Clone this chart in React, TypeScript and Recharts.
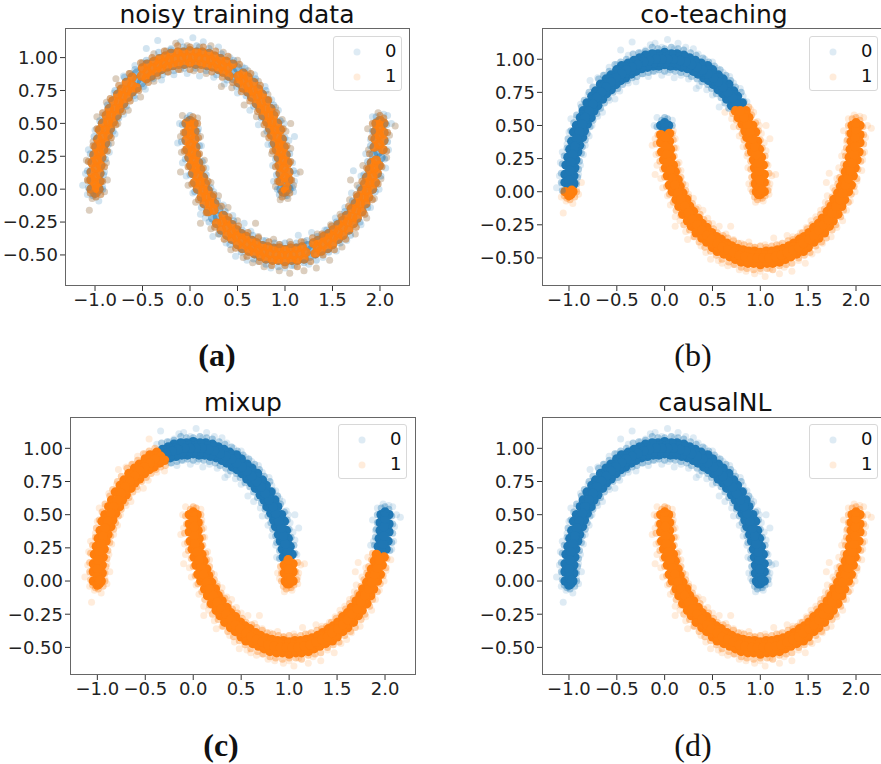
import React from "react";
import { ScatterChart, Scatter, XAxis, YAxis, Legend } from "recharts";

// values, [x, y]
const upperCore = [
  [1.04, 0], [1.04, 0.07], [1.04, 0.13], [1.03, 0.2], [1.01, 0.26], [0.99, 0.32], [0.97, 0.38], [0.95, 0.45], [0.92, 0.5], [0.88, 0.56], [0.85, 0.61], [0.81, 0.67], [0.76, 0.72], [0.72, 0.76], [0.67, 0.81], [0.61, 0.85], [0.56, 0.88], [0.5, 0.92], [0.45, 0.95], [0.38, 0.97], [0.32, 0.99], [0.26, 1.01], [0.2, 1.03], [0.13, 1.04], [0.07, 1.04], [0, 1.05],
  [-0.07, 1.04], [-0.13, 1.04], [-0.2, 1.03], [-0.26, 1.01], [-0.32, 0.99], [-0.38, 0.97], [-0.45, 0.95], [-0.5, 0.92], [-0.56, 0.88], [-0.61, 0.85], [-0.67, 0.81], [-0.72, 0.76], [-0.76, 0.72], [-0.81, 0.67], [-0.85, 0.61], [-0.88, 0.56], [-0.92, 0.5], [-0.95, 0.45], [-0.97, 0.38], [-0.99, 0.32], [-1.01, 0.26], [-1.03, 0.2], [-1.04, 0.13], [-1.04, 0.07], [-1.04, 0],
  [0.96, 0], [0.95, 0.06], [0.95, 0.12], [0.94, 0.18], [0.93, 0.24], [0.91, 0.3], [0.89, 0.35], [0.86, 0.41], [0.84, 0.46], [0.81, 0.51], [0.77, 0.56], [0.74, 0.61], [0.7, 0.65], [0.65, 0.7], [0.61, 0.74], [0.56, 0.77], [0.51, 0.81], [0.46, 0.84], [0.41, 0.86], [0.35, 0.89], [0.3, 0.91], [0.24, 0.93], [0.18, 0.94], [0.12, 0.95], [0.06, 0.95], [0, 0.96],
  [-0.06, 0.95], [-0.12, 0.95], [-0.18, 0.94], [-0.24, 0.93], [-0.3, 0.91], [-0.35, 0.89], [-0.41, 0.86], [-0.46, 0.84], [-0.51, 0.81], [-0.56, 0.77], [-0.61, 0.74], [-0.65, 0.7], [-0.7, 0.65], [-0.74, 0.61], [-0.77, 0.56], [-0.81, 0.51], [-0.84, 0.46], [-0.86, 0.41], [-0.89, 0.35], [-0.91, 0.3], [-0.93, 0.24], [-0.94, 0.18], [-0.95, 0.12], [-0.95, 0.06], [-0.96, 0],
  [1, 0.03], [1, 0.09], [0.99, 0.16], [0.98, 0.22], [0.96, 0.28], [0.94, 0.34], [0.92, 0.4], [0.89, 0.45], [0.86, 0.51], [0.83, 0.56], [0.79, 0.61], [0.75, 0.66], [0.71, 0.71], [0.66, 0.75], [0.61, 0.79], [0.56, 0.83], [0.51, 0.86], [0.45, 0.89], [0.4, 0.92], [0.34, 0.94], [0.28, 0.96], [0.22, 0.98], [0.16, 0.99], [0.09, 1], [0.03, 1],
  [-0.03, 1], [-0.09, 1], [-0.16, 0.99], [-0.22, 0.98], [-0.28, 0.96], [-0.34, 0.94], [-0.4, 0.92], [-0.45, 0.89], [-0.51, 0.86], [-0.56, 0.83], [-0.61, 0.79], [-0.66, 0.75], [-0.71, 0.71], [-0.75, 0.66], [-0.79, 0.61], [-0.83, 0.56], [-0.86, 0.51], [-0.89, 0.45], [-0.92, 0.4], [-0.94, 0.34], [-0.96, 0.28], [-0.98, 0.22], [-0.99, 0.16], [-1, 0.09], [-1, 0.03],
  [-1, -0.03], [-0.98, -0.02], [-0.97, 0.01], [1, -0.02], [0.98, -0.02], [1.02, 0.01],
];

const upperHalo = [
  [1.08, 0.01], [1.07, 0.07], [1.09, 0.14], [1.06, 0.21], [1.05, 0.27], [1.02, 0.33], [1, 0.39], [0.98, 0.46], [0.95, 0.52], [0.91, 0.58], [0.88, 0.64], [0.83, 0.68], [0.8, 0.75], [0.74, 0.79], [0.69, 0.84], [0.64, 0.88], [0.58, 0.92], [0.52, 0.95], [0.46, 0.98], [0.4, 1.01], [0.33, 1.03], [0.27, 1.05], [0.2, 1.07], [0.14, 1.08], [0.07, 1.09], [0, 1.08],
  [-0.07, 1.08], [-0.13, 1.09], [-0.2, 1.06], [-0.27, 1.05], [-0.33, 1.04], [-0.4, 1], [-0.46, 0.98], [-0.52, 0.96], [-0.58, 0.91], [-0.64, 0.88], [-0.69, 0.85], [-0.75, 0.79], [-0.79, 0.75], [-0.84, 0.69], [-0.87, 0.64], [-0.92, 0.58], [-0.95, 0.52], [-0.98, 0.46], [-1.01, 0.4], [-1.02, 0.33], [-1.05, 0.27], [-1.07, 0.21], [-1.08, 0.14], [-1.08, 0.07], [-1.07, 0.01], [-1.05, -0.03], [-1.02, -0.05], [-0.99, -0.06],
  [0.92, 0], [0.92, 0.06], [0.91, 0.11], [0.9, 0.17], [0.9, 0.23], [0.87, 0.29], [0.86, 0.34], [0.83, 0.39], [0.81, 0.44], [0.78, 0.49], [0.75, 0.54], [0.71, 0.59], [0.67, 0.63], [0.63, 0.67], [0.59, 0.71], [0.54, 0.74], [0.49, 0.78], [0.45, 0.81], [0.39, 0.83], [0.34, 0.85], [0.28, 0.87], [0.23, 0.89], [0.17, 0.9], [0.11, 0.91], [0.06, 0.92], [0, 0.91],
  [-0.06, 0.92], [-0.12, 0.91], [-0.17, 0.9], [-0.23, 0.89], [-0.29, 0.87], [-0.34, 0.86], [-0.39, 0.84], [-0.44, 0.81], [-0.49, 0.78], [-0.54, 0.75], [-0.59, 0.71], [-0.63, 0.67], [-0.67, 0.63], [-0.71, 0.59], [-0.75, 0.54], [-0.78, 0.49], [-0.81, 0.44], [-0.83, 0.39], [-0.86, 0.34], [-0.87, 0.29], [-0.89, 0.23], [-0.9, 0.17], [-0.91, 0.11], [-0.92, 0.06], [-0.92, 0], [-0.94, -0.04], [0.94, -0.04], [0.97, -0.06], [1.02, -0.05], [1.05, -0.03],
];

const upperFringe = [
  [1.12, 0.12], [1.09, 0.03], [1.08, 0.2], [1.06, 0.31], [1.04, 0.37], [1.01, 0.44], [0.99, 0.5], [0.97, 0.53], [0.93, 0.6], [0.9, 0.62], [0.86, 0.68], [0.82, 0.72], [0.79, 0.78], [0.72, 0.82], [0.68, 0.87], [0.61, 0.9], [0.55, 0.93], [0.5, 0.98], [0.42, 1], [0.35, 1.04], [0.3, 1.08], [0.22, 1.09], [0.14, 1.12], [0.1, 1.08], [0.03, 1.15], [-0.03, 1.09], [-0.1, 1.12], [-0.15, 1.11], [-0.2, 1.07], [-0.25, 1.05], [-0.34, 1.13], [-0.38, 1.03], [-0.46, 1.07], [-0.5, 0.96], [-0.58, 0.94], [-0.63, 0.88], [-0.7, 0.86], [-0.78, 0.84], [-0.8, 0.73], [-0.88, 0.66], [-0.92, 0.56], [-0.98, 0.55], [-1, 0.45], [-1.02, 0.36], [-1.07, 0.3], [-1.09, 0.22], [-1.1, 0.12], [-1.07, 0.06], [-1.13, 0.03], [-1.06, -0.16], [-1.08, -0.04], [-1.03, -0.07],
  [0.88, 0.06], [0.9, 0.02], [0.87, 0.18], [0.86, 0.27], [0.82, 0.34], [0.78, 0.42], [0.72, 0.49], [0.7, 0.55], [0.63, 0.6], [0.57, 0.64], [0.5, 0.73], [0.44, 0.77], [0.36, 0.8], [0.33, 0.78], [0.25, 0.85], [0.17, 0.88], [0.1, 0.86], [0.04, 0.9], [-0.03, 0.88], [-0.1, 0.91], [-0.17, 0.87], [-0.24, 0.89], [-0.3, 0.83], [-0.38, 0.82], [-0.47, 0.76], [-0.52, 0.7], [-0.58, 0.69], [-0.65, 0.6], [-0.7, 0.57], [-0.76, 0.5], [-0.79, 0.42], [-0.83, 0.35], [-0.85, 0.28], [-0.88, 0.2], [-0.9, 0.13], [-0.87, 0.07], [-0.92, 0.02], [-0.9, -0.02], [-0.96, -0.09],
  [0.95, -0.08], [1, -0.05], [1.03, -0.07], [1.09, -0.02], [0.98, -0.03], [1.05, 0.02], [1.16, 0.13], [1.1, 0.06], [1.06, 0.5], [1.1, 0.4],
];

const lowerCore = [
  [-0.04, 0.5], [-0.04, 0.43], [-0.04, 0.37], [-0.03, 0.3], [-0.01, 0.24], [0.01, 0.18], [0.03, 0.12], [0.05, 0.05], [0.08, 0], [0.12, -0.06], [0.15, -0.11], [0.19, -0.17], [0.24, -0.22], [0.28, -0.26], [0.33, -0.31], [0.39, -0.35], [0.44, -0.38], [0.5, -0.42], [0.55, -0.45], [0.62, -0.47], [0.68, -0.49], [0.74, -0.51], [0.8, -0.53], [0.87, -0.54], [0.93, -0.54], [1, -0.55],
  [1.07, -0.54], [1.13, -0.54], [1.2, -0.53], [1.26, -0.51], [1.32, -0.49], [1.38, -0.47], [1.45, -0.45], [1.5, -0.42], [1.56, -0.38], [1.61, -0.35], [1.67, -0.31], [1.72, -0.26], [1.76, -0.22], [1.81, -0.17], [1.85, -0.11], [1.88, -0.06], [1.92, 0], [1.95, 0.05], [1.97, 0.12], [1.99, 0.18], [2.01, 0.24], [2.03, 0.3], [2.04, 0.37], [2.04, 0.43], [2.04, 0.5],
  [0.04, 0.5], [0.05, 0.44], [0.05, 0.38], [0.06, 0.32], [0.07, 0.26], [0.09, 0.2], [0.11, 0.15], [0.14, 0.09], [0.16, 0.04], [0.19, -0.01], [0.23, -0.06], [0.26, -0.11], [0.3, -0.15], [0.35, -0.2], [0.39, -0.24], [0.44, -0.27], [0.49, -0.31], [0.54, -0.34], [0.59, -0.36], [0.65, -0.39], [0.7, -0.41], [0.76, -0.43], [0.82, -0.44], [0.88, -0.45], [0.94, -0.45], [1, -0.46],
  [1.06, -0.45], [1.12, -0.45], [1.18, -0.44], [1.24, -0.43], [1.3, -0.41], [1.35, -0.39], [1.41, -0.36], [1.46, -0.34], [1.51, -0.31], [1.56, -0.27], [1.61, -0.24], [1.65, -0.2], [1.7, -0.15], [1.74, -0.11], [1.77, -0.06], [1.81, -0.01], [1.84, 0.04], [1.86, 0.09], [1.89, 0.15], [1.91, 0.2], [1.93, 0.26], [1.94, 0.32], [1.95, 0.38], [1.95, 0.44], [1.96, 0.5],
  [0, 0.47], [0.01, 0.41], [0.01, 0.34], [0.02, 0.28], [0.04, 0.22], [0.06, 0.16], [0.08, 0.1], [0.11, 0.05], [0.14, -0.01], [0.17, -0.06], [0.21, -0.11], [0.25, -0.16], [0.29, -0.21], [0.34, -0.25], [0.39, -0.29], [0.44, -0.33], [0.49, -0.36], [0.55, -0.39], [0.6, -0.42], [0.66, -0.44], [0.72, -0.46], [0.78, -0.48], [0.84, -0.49], [0.91, -0.5], [0.97, -0.5],
  [1.03, -0.5], [1.09, -0.5], [1.16, -0.49], [1.22, -0.48], [1.28, -0.46], [1.34, -0.44], [1.4, -0.42], [1.45, -0.39], [1.51, -0.36], [1.56, -0.33], [1.61, -0.29], [1.66, -0.25], [1.71, -0.21], [1.75, -0.16], [1.79, -0.11], [1.83, -0.06], [1.86, -0.01], [1.89, 0.05], [1.92, 0.1], [1.94, 0.16], [1.96, 0.22], [1.98, 0.28], [1.99, 0.34], [1.99, 0.41], [2, 0.47],
  [0, 0.52], [2, 0.52],
];

const lowerHalo = [
  [-0.08, 0.49], [-0.07, 0.43], [-0.09, 0.36], [-0.06, 0.29], [-0.05, 0.23], [-0.02, 0.17], [0, 0.11], [0.02, 0.04], [0.05, -0.02], [0.09, -0.08], [0.12, -0.14], [0.17, -0.18], [0.2, -0.25], [0.26, -0.29], [0.31, -0.34], [0.36, -0.38], [0.42, -0.42], [0.48, -0.45], [0.54, -0.48], [0.6, -0.51], [0.67, -0.53], [0.73, -0.55], [0.8, -0.57], [0.86, -0.58], [0.93, -0.59], [1, -0.58],
  [1.07, -0.58], [1.13, -0.59], [1.2, -0.56], [1.27, -0.55], [1.33, -0.54], [1.4, -0.5], [1.46, -0.48], [1.52, -0.46], [1.58, -0.41], [1.64, -0.38], [1.69, -0.35], [1.75, -0.29], [1.79, -0.25], [1.84, -0.19], [1.87, -0.14], [1.92, -0.08], [1.95, -0.02], [1.98, 0.04], [2.01, 0.1], [2.02, 0.17], [2.05, 0.23], [2.07, 0.29], [2.08, 0.36], [2.08, 0.43], [2.07, 0.49],
  [0.08, 0.5], [0.08, 0.44], [0.09, 0.39], [0.1, 0.33], [0.1, 0.27], [0.13, 0.21], [0.14, 0.16], [0.17, 0.11], [0.19, 0.06], [0.22, 0.01], [0.25, -0.04], [0.29, -0.09], [0.33, -0.13], [0.37, -0.17], [0.41, -0.21], [0.46, -0.24], [0.51, -0.28], [0.55, -0.31], [0.61, -0.33], [0.66, -0.35], [0.72, -0.37], [0.77, -0.39], [0.83, -0.4], [0.89, -0.41], [0.94, -0.42], [1, -0.41],
  [1.06, -0.42], [1.12, -0.41], [1.17, -0.4], [1.23, -0.39], [1.29, -0.37], [1.34, -0.36], [1.39, -0.34], [1.44, -0.31], [1.49, -0.28], [1.54, -0.25], [1.59, -0.21], [1.63, -0.17], [1.67, -0.13], [1.71, -0.09], [1.75, -0.04], [1.78, 0.01], [1.81, 0.06], [1.83, 0.11], [1.86, 0.16], [1.87, 0.21], [1.89, 0.27], [1.9, 0.33], [1.91, 0.39], [1.92, 0.44], [1.92, 0.5],
  [0, 0.56], [0.03, 0.55], [-0.03, 0.54], [2, 0.56], [1.96, 0.55], [2.04, 0.54],
];

const lowerFringe = [
  [-0.1, 0.4], [-0.11, 0.5], [-0.08, 0.56], [-0.13, 0.35], [-0.09, 0.28], [-0.08, 0.2], [-0.1, 0.13], [-0.04, 0.1], [-0.02, 0.03], [0.03, -0.03], [0.06, -0.1], [0.11, -0.19], [0.11, -0.26], [0.16, -0.22], [0.22, -0.3], [0.24, -0.36], [0.3, -0.34], [0.38, -0.41], [0.43, -0.46], [0.48, -0.51], [0.56, -0.52], [0.6, -0.54], [0.66, -0.56], [0.72, -0.55], [0.78, -0.59], [0.85, -0.6], [0.94, -0.62], [1, -0.6], [1.05, -0.64], [1.1, -0.58], [1.2, -0.62], [1.25, -0.57], [1.33, -0.6], [1.4, -0.52], [1.47, -0.54], [1.54, -0.47], [1.6, -0.44], [1.65, -0.39], [1.74, -0.34], [1.8, -0.27], [1.86, -0.22], [1.9, -0.14], [1.94, -0.07], [1.99, 0], [2.01, 0.08], [2.06, 0.16], [2.07, 0.24], [2.09, 0.3], [2.1, 0.41], [2.12, 0.5], [2.16, 0.48], [2.04, 0.57], [1.98, 0.58], [2.08, 0.56],
  [0.08, 0.54], [0.09, 0.46], [0.11, 0.4], [0.12, 0.33], [0.15, 0.22], [0.17, 0.16], [0.22, 0.05], [0.25, -0.02], [0.3, -0.05], [0.35, -0.12], [0.4, -0.14], [0.45, -0.2], [0.5, -0.24], [0.57, -0.26], [0.69, -0.26], [0.64, -0.32], [0.72, -0.36], [0.8, -0.39], [0.88, -0.38], [0.95, -0.42], [1.05, -0.4], [1.14, -0.35], [1.2, -0.4], [1.28, -0.33], [1.34, -0.34], [1.42, -0.31], [1.48, -0.27], [1.53, -0.22], [1.58, -0.19], [1.63, -0.14], [1.68, -0.08], [1.7, -0.03], [1.76, 0.03], [1.72, 0.14], [1.69, 0.07], [1.8, 0.1], [1.82, 0.18], [1.85, 0.27], [1.88, 0.3], [1.9, 0.38], [1.87, 0.46], [1.92, 0.55],
];

const xTicks = [-1, -0.5, 0, 0.5, 1, 1.5, 2];
const yTicks = [-0.5, -0.25, 0, 0.25, 0.5, 0.75, 1];
const classLabels = ["0", "1"];

const BLUE = "#1f77b4";
const ORANGE = "#ff7f0e";
const FONT = "'DejaVu Sans', sans-serif";
const AXIS_W = 64;
const AXIS_H = 34;

const minus = (s: string) => s.replace("-", "\u2212");

// which moon pieces each method called class 0
const coTeaching = (x: number, y: number, upper: boolean) =>
  upper
    ? !(x > 0.5 && y < 0.63 + 0.26 * (x - 0.7)) && !(x < -0.5 && y < 0.38 * (x + 1.06))
    : x < 0.5 && y > 0.428 + 0.17 * (x + 0.118);
const mixup = (x: number, y: number, upper: boolean) =>
  upper ? x + y >= 0.627 && !(x > 0.5 && y < 0.17) : x > 1.5 && y > 0.21;
const causal = (_x: number, _y: number, upper: boolean) => upper;

const panels = [
  { title: "noisy training data", caption: "(a)", bold: true, box: [65, 28, 345, 258], xd: [-1.316, 2.316], yd: [-0.736, 1.225], titleX: 237, titleY: 15, capX: 217, capY: 355, legend: [333, 36], split: null },
  { title: "co-teaching", caption: "(b)", bold: false, box: [542, 28, 345, 258], xd: [-1.282, 2.324], yd: [-0.712, 1.236], titleX: 714, titleY: 15, capX: 693, capY: 355, legend: [809, 36], split: coTeaching },
  { title: "mixup", caption: "(c)", bold: true, box: [70, 417, 346, 258], xd: [-1.285, 2.323], yd: [-0.708, 1.236], titleX: 243, titleY: 403, capX: 221, capY: 745, legend: [338, 424], split: mixup },
  { title: "causalNL", caption: "(d)", bold: false, box: [542, 417, 345, 258], xd: [-1.282, 2.324], yd: [-0.708, 1.236], titleX: 715, titleY: 403, capX: 693, capY: 745, legend: [809, 424], split: causal },
];

const toRows = (pairs: number[][], upper: boolean) => pairs.map(([x, y]) => ({ x, y, upper }));
const coreRows = [...toRows(upperCore, true), ...toRows(lowerCore, false)];
const haloRows = [...toRows(upperHalo, true), ...toRows(lowerHalo, false)];
const fringeRows = [...toRows(upperFringe, true), ...toRows(lowerFringe, false)];

const dot = (color: string, opacity: number, r = 3.5) => (p: any) => (
  <circle cx={p.cx} cy={p.cy} r={r} fill={color} fillOpacity={opacity} />
);

function LegendBox() {
  return (
    <div style={{ width: 69, height: 55, boxSizing: "border-box", border: "1px solid #d8d8d8", borderRadius: 3, background: "rgba(255,255,255,0.8)", position: "relative", fontFamily: FONT, fontSize: 18, color: "#111" }}>
      {classLabels.map((label, i) => (
        <React.Fragment key={label}>
          <svg width={10} height={10} style={{ position: "absolute", left: 18, top: 9.5 + i * 25 }}>
            <circle cx={5} cy={5} r={3.5} fill={i === 0 ? BLUE : ORANGE} fillOpacity={0.15} />
          </svg>
          <span style={{ position: "absolute", left: 51, top: 3 + i * 25 }}>{label}</span>
        </React.Fragment>
      ))}
    </div>
  );
}

function Panel({ cfg }: { cfg: (typeof panels)[number] }) {
  const [left, top, w, h] = cfg.box;
  const split = cfg.split;
  const noisy = split === null;
  // in the noisy panel both classes sit on both moons
  const pick = (rows: typeof coreRows, cls: number) =>
    noisy
      ? rows.filter((_, i) => cls === 0 || i % 2 === 1)
      : rows.filter((r) => (split(r.x, r.y, r.upper) ? 0 : 1) === cls);
  const coreFor = (cls: number) =>
    noisy ? coreRows.filter((_, i) => cls === 0 || i % 17 !== 0) : pick(coreRows, cls);

  return (
    <>
      <div style={{ position: "absolute", left: cfg.titleX - 150, top: cfg.titleY - 15, width: 300, textAlign: "center", fontFamily: FONT, fontSize: 25, lineHeight: "30px", color: "#111", whiteSpace: "nowrap" }}>{cfg.title}</div>
      <div style={{ position: "absolute", left: cfg.capX - 50, top: cfg.capY - 20, width: 100, textAlign: "center", fontFamily: "'Liberation Serif', serif", fontSize: 32, lineHeight: "40px", fontWeight: cfg.bold ? 700 : 400, color: "#111" }}>{cfg.caption}</div>
      <div style={{ position: "absolute", left, top, width: w, height: h, boxSizing: "border-box", border: "1px solid #666" }} />
      <div style={{ position: "absolute", left: left - AXIS_W, top }}>
        <ScatterChart width={w + AXIS_W} height={h + AXIS_H} margin={{ top: 0, right: 0, bottom: 0, left: 0 }}>
          <XAxis
            type="number"
            dataKey="x"
            domain={cfg.xd}
            ticks={xTicks}
            interval={0}
            allowDataOverflow
            height={AXIS_H}
            axisLine={false}
            tickSize={5}
            tickMargin={2}
            tickLine={{ stroke: "#333" }}
            tick={{ fontSize: 18, fontFamily: FONT, fill: "#222" }}
            tickFormatter={(v: number) => minus(v.toFixed(1))}
          />
          <YAxis
            type="number"
            dataKey="y"
            domain={cfg.yd}
            ticks={yTicks}
            interval={0}
            allowDataOverflow
            width={AXIS_W}
            axisLine={false}
            tickSize={5}
            tickMargin={2}
            tickLine={{ stroke: "#333" }}
            tick={{ fontSize: 18, fontFamily: FONT, fill: "#222" }}
            tickFormatter={(v: number) => minus(v.toFixed(2))}
          />
          <Scatter name="0" data={pick(fringeRows, 0)} shape={dot(BLUE, noisy ? 0.2 : 0.15)} isAnimationActive={false} />
          <Scatter name="1" data={pick(fringeRows, 1)} shape={dot(ORANGE, noisy ? 0.22 : 0.15)} isAnimationActive={false} />
          <Scatter name="0 core" data={coreFor(0)} shape={dot(BLUE, noisy ? 0.5 : 1, 4.8)} isAnimationActive={false} />
          <Scatter name="1 core" data={coreFor(1)} shape={dot(ORANGE, noisy ? 0.9 : 1, 4.8)} isAnimationActive={false} />
          <Scatter name="0 halo" data={pick(haloRows, 0)} shape={dot(BLUE, noisy ? 0.28 : 0.35)} isAnimationActive={false} />
          <Scatter name="1 halo" data={pick(haloRows, 1)} shape={dot(ORANGE, noisy ? 0.45 : 0.35)} isAnimationActive={false} />
          <Legend
            layout="vertical"
            align="center"
            verticalAlign="middle"
            content={() => <LegendBox />}
            wrapperStyle={{ position: "absolute", left: cfg.legend[0] - left + AXIS_W, top: cfg.legend[1] - top, width: 69, height: 55 }}
          />
        </ScatterChart>
      </div>
    </>
  );
}

export default function App() {
  return (
    <div style={{ position: "absolute", left: 0, top: 0, width: 881, height: 764, overflow: "hidden", background: "#fff" }}>
      {panels.map((cfg) => (
        <Panel key={cfg.title} cfg={cfg} />
      ))}
    </div>
  );
}
